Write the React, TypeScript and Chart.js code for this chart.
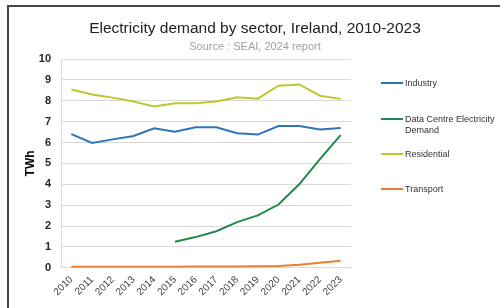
import React, { useEffect, useRef } from "react";
import { Chart, registerables } from "chart.js";

Chart.register(...registerables);

const years = ["2010", "2011", "2012", "2013", "2014", "2015", "2016", "2017", "2018", "2019", "2020", "2021", "2022", "2023"];
const industry = [6.4, 5.98, 6.15, 6.31, 6.68, 6.52, 6.73, 6.73, 6.44, 6.38, 6.79, 6.79, 6.62, 6.7];
const dataCentre = [null, null, null, null, null, 1.25, 1.47, 1.75, 2.19, 2.51, 3.03, 4.0, 5.2, 6.35];
const residential = [8.54, 8.3, 8.15, 7.96, 7.72, 7.88, 7.88, 7.96, 8.17, 8.1, 8.72, 8.78, 8.24, 8.09];
const transport = [0.05, 0.05, 0.05, 0.05, 0.05, 0.05, 0.06, 0.06, 0.06, 0.07, 0.08, 0.14, 0.24, 0.34];

const seriesNames = ["Industry", "Data Centre Electricity Demand", "Residential", "Transport"];
const seriesColors = ["#2e75b6", "#1f8a4c", "#bcc82c", "#ed7d31"];
const yTicks = [0, 1, 2, 3, 4, 5, 6, 7, 8, 9, 10];

const chartTitle = "Electricity demand by sector, Ireland, 2010-2023";
const chartSubtitle = "Source : SEAI, 2024 report";
const yTitle = "TWh";

const legendItems = [
  { lines: ["Industry"], y: 83 },
  { lines: ["Data Centre Electricity", "Demand"], y: 119 },
  { lines: ["Residential"], y: 154 },
  { lines: ["Transport"], y: 189 },
];

export default function App() {
  const ref = useRef<HTMLCanvasElement | null>(null);

  useEffect(() => {
    if (!ref.current) return;
    const data = [industry, dataCentre, residential, transport];
    const chart = new Chart(ref.current, {
      type: "line",
      data: {
        labels: years,
        datasets: data.map((d, i) => ({
          label: seriesNames[i],
          data: d,
          borderColor: seriesColors[i],
          backgroundColor: seriesColors[i],
          borderWidth: 2,
          pointRadius: 0,
          tension: 0,
          spanGaps: false,
        })),
      },
      options: {
        animation: false,
        responsive: false,
        devicePixelRatio: 1,
        layout: { padding: { top: 59, left: 23, right: 149, bottom: 4 } },
        plugins: {
          legend: { display: false },
          title: { display: false },
          tooltip: { enabled: false },
        },
        scales: {
          x: {
            offset: true,
            grid: { display: false, drawTicks: false },
            border: { display: true, color: "#d9d9d9", width: 1 },
            afterFit: (s: any) => {
              s.paddingLeft = 0;
              s.paddingRight = 0;
            },
            ticks: {
              autoSkip: false,
              minRotation: 45,
              maxRotation: 45,
              padding: 6,
              color: "#404040",
              font: { family: "Liberation Sans", size: 10 },
            },
          },
          y: {
            min: 0,
            max: 10,
            afterBuildTicks: (axis: any) => {
              axis.ticks = yTicks.map((v) => ({ value: v }));
            },
            afterFit: (s: any) => {
              s.width = 38;
            },
            grid: { color: "#d9d9d9", drawTicks: false, lineWidth: 1 },
            border: { display: true, color: "#d9d9d9", width: 1 },
            ticks: {
              padding: 10,
              color: "#262626",
              font: { family: "Liberation Sans", size: 11, weight: "bold" },
            },
            title: {
              display: true,
              text: yTitle,
              color: "#000",
              padding: { top: 0, bottom: 0 },
              font: { family: "Liberation Sans", size: 12, weight: "bold" },
            },
          },
        },
      },
    });
    return () => chart.destroy();
  }, []);

  return (
    <div style={{ position: "fixed", left: 0, top: 0, width: 500, height: 308, background: "#fff", overflow: "hidden" }}>
      <div
        style={{
          position: "absolute",
          left: 7,
          top: 5,
          right: -10,
          bottom: -10,
          borderTop: "2px solid #444",
          borderLeft: "2px solid #444",
        }}
      />
      <canvas ref={ref} width={500} height={308} style={{ position: "absolute", left: 0, top: 0, width: 500, height: 308 }} />
      <div
        style={{
          position: "absolute",
          left: 0,
          width: 510,
          top: 19,
          textAlign: "center",
          fontFamily: "Liberation Sans",
          fontSize: 15.5,
          color: "#222",
          lineHeight: "18px",
          whiteSpace: "nowrap",
        }}
      >
        {chartTitle}
      </div>
      <div
        style={{
          position: "absolute",
          left: 0,
          width: 510,
          top: 39,
          textAlign: "center",
          fontFamily: "Liberation Sans",
          fontSize: 11,
          color: "#a0a0a0",
          lineHeight: "14px",
          whiteSpace: "nowrap",
        }}
      >
        {chartSubtitle}
      </div>
      {legendItems.map((item, i) => (
        <React.Fragment key={i}>
          <div
            style={{
              position: "absolute",
              left: 381,
              top: item.y - 1,
              width: 22,
              height: 2,
              background: seriesColors[i],
            }}
          />
          <div
            style={{
              position: "absolute",
              left: 405,
              top: item.y - 5.5,
              fontFamily: "Liberation Sans",
              fontSize: 9,
              lineHeight: "11px",
              color: "#333",
              whiteSpace: "nowrap",
            }}
          >
            {item.lines.map((l, j) => (
              <div key={j}>{l}</div>
            ))}
          </div>
        </React.Fragment>
      ))}
    </div>
  );
}
